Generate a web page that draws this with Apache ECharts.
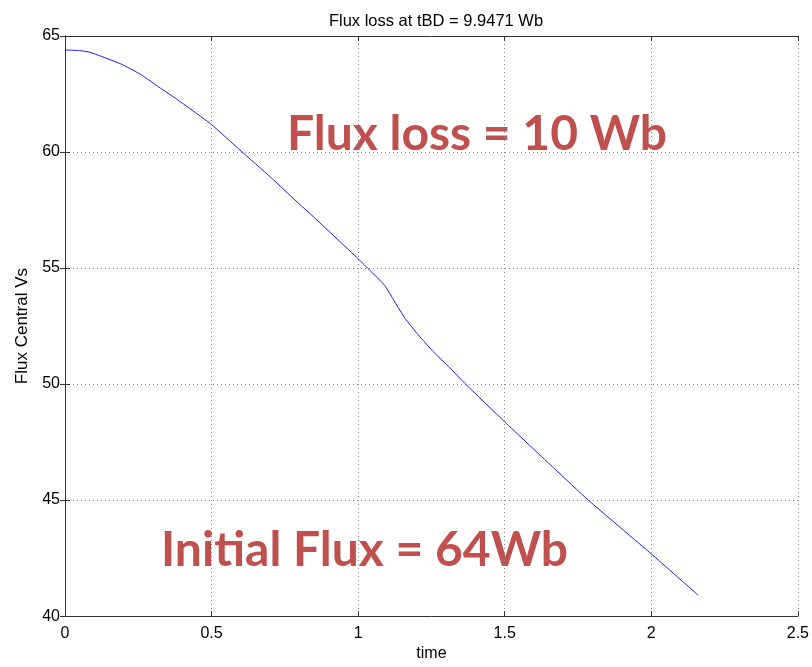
<!DOCTYPE html>
<html>
<head>
<meta charset="utf-8">
<title>Flux loss</title>
<script src="https://cdn.jsdelivr.net/npm/echarts@6/dist/echarts.min.js"></script>
<style>
  html, body { margin: 0; padding: 0; background: #fff; }
  #chart { width: 812px; height: 667px; }
</style>
</head>
<body>
<div id="chart"></div>
<script>
// values
const timeVals = [0, 0.05, 0.085, 0.19, 0.26, 0.32, 0.39, 0.46, 0.5, 0.6, 0.7, 0.8, 0.833,
  1.0, 1.04, 1.09, 1.125, 1.16, 1.205, 1.256, 1.313, 1.364, 1.5, 1.67, 1.785, 2.0, 2.16];
const fluxVals = [64.4, 64.37, 64.3, 63.8, 63.33, 62.8, 62.2, 61.56, 61.18, 60.05, 58.93, 57.75, 57.38,
  55.4, 54.9, 54.26, 53.54, 52.83, 52.12, 51.4, 50.7, 50.03, 48.37, 46.35, 45.0, 42.68, 40.9];
const xTicks = [0, 0.5, 1, 1.5, 2, 2.5];
const yTicks = [40, 45, 50, 55, 60, 65];

const chart = echarts.init(document.getElementById('chart'));
const axisColor = '#333';
const gridStyle = { color: '#888', type: [1, 3], width: 1 };

const points = timeVals.map((t, i) => [t, fluxVals[i]]);

chart.setOption({
  animation: false,
  backgroundColor: '#fff',
  title: {
    text: 'Flux loss at tBD = 9.9471 Wb',
    left: 431, top: 8, textAlign: 'center',
    textStyle: { fontFamily: 'Liberation Sans', fontSize: 16.5, fontWeight: 'normal', color: '#000' }
  },
  grid: { left: 65, right: 14, top: 36, bottom: 44 },
  xAxis: [{
    type: 'value', min: xTicks[0], max: xTicks[xTicks.length - 1], interval: 0.5,
    name: 'time', nameLocation: 'middle', nameGap: 29,
    nameTextStyle: { fontFamily: 'Liberation Sans', fontSize: 16, color: '#000' },
    axisLine: { lineStyle: { color: axisColor } },
    axisTick: { inside: true, length: 5, lineStyle: { color: axisColor } },
    axisLabel: { fontFamily: 'Liberation Sans', fontSize: 16, color: '#000', margin: 9 },
    splitLine: { show: true, lineStyle: gridStyle }
  }, {
    type: 'value', position: 'top', min: xTicks[0], max: xTicks[xTicks.length - 1], interval: 0.5,
    axisLine: { show: true, lineStyle: { color: axisColor } },
    axisTick: { show: true, inside: true, length: 5, lineStyle: { color: axisColor } },
    axisLabel: { show: false }, splitLine: { show: false }
  }],
  yAxis: [{
    type: 'value', min: yTicks[0], max: yTicks[yTicks.length - 1], interval: 5,
    name: 'Flux Central Vs', nameLocation: 'middle', nameGap: 32,
    nameTextStyle: { fontFamily: 'Liberation Sans', fontSize: 17, color: '#000' },
    axisLine: { show: true, lineStyle: { color: axisColor } },
    axisTick: { show: true, inside: true, length: 5, lineStyle: { color: axisColor } },
    axisLabel: { fontFamily: 'Liberation Sans', fontSize: 16, color: '#000', margin: 5 },
    splitLine: { show: true, lineStyle: gridStyle }
  }, {
    type: 'value', position: 'right', min: yTicks[0], max: yTicks[yTicks.length - 1], interval: 5,
    axisLine: { show: true, lineStyle: { color: axisColor } },
    axisTick: { show: true, inside: true, length: 5, lineStyle: { color: axisColor } },
    axisLabel: { show: false }, splitLine: { show: false }
  }],
  series: [{
    type: 'line', data: points, showSymbol: false, smooth: 0.15,
    lineStyle: { color: '#1a1aff', width: 1 }
  }],
  graphic: [{
    type: 'text', left: 287, top: 111,
    style: { text: 'Flux loss = 10 Wb', font: 'bold 48px Lato', fill: '#C0504D' }
  }, {
    type: 'text', left: 161, top: 527,
    style: { text: 'Ini\u200Ctial Flux = 64Wb', font: 'bold 48px Lato', fill: '#C0504D' }
  }]
});
</script>
</body>
</html>
